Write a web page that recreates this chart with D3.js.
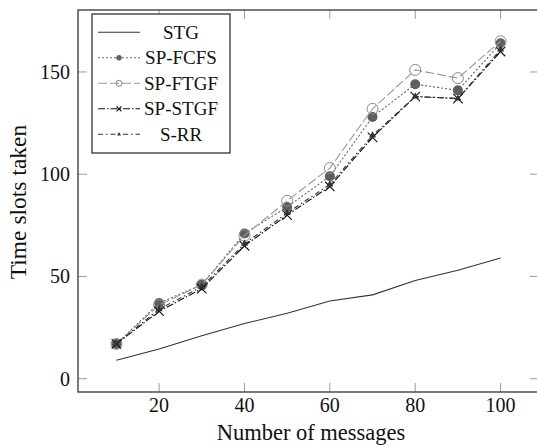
<!DOCTYPE html>
<html>

<head>
    <meta charset="utf-8">
    <title>Time slots taken</title>
    <style>
        body { margin: 0; background: #fff; }
    </style>
</head>

<body>
    <script src='https://d3js.org/d3.v7.min.js'></script>
    <script>
    // number of messages on the x axis
    var messages = [10, 20, 30, 40, 50, 60, 70, 80, 90, 100];
    // time slots for each scheme
    var stg    = [9, 14.5, 21, 27, 32, 38, 41, 48, 53, 59];
    var spFcfs = [17, 37, 46, 71, 84, 99, 128, 144, 141, 164];
    var spFtgf = [17, 36, 46, 70, 87, 103, 132, 151, 147, 165];
    var spStgf = [17, 33, 44, 65, 80, 94, 118, 138, 137, 160];
    var sRr    = [17, 34, 45, 66, 81, 95, 119, 138, 137, 161];
    var seriesNames = ["STG", "SP-FCFS", "SP-FTGF", "SP-STGF", "S-RR"];
    var xTicks = [20, 40, 60, 80, 100];
    var yTicks = [0, 50, 100, 150];

    const width = 537;
    const height = 446;
    const plotL = 78, plotR = 539, plotT = 10, plotB = 392;
    const serif = "'Liberation Serif', 'DejaVu Serif', serif";

    var x = d3.scaleLinear().domain([1, 109]).range([plotL, plotR]);
    var y = d3.scaleLinear().domain([-6.5, 180.3]).range([plotB, plotT]);

    var svg = d3.select("body")
        .append("svg")
        .attr("width", width)
        .attr("height", height)
        .attr("font-family", serif)
        .style("font-family", serif);

    // line + marker style per series
    var styles = [
        { values: stg,    stroke: "#333", dash: null,        marker: "none" },
        { values: spFcfs, stroke: "#666", dash: "2,2",       marker: "dot" },
        { values: spFtgf, stroke: "#999", dash: "9,3",       marker: "ring" },
        { values: spStgf, stroke: "#111", dash: "7,2,1.5,2", marker: "cross" },
        { values: sRr,    stroke: "#333", dash: "5,3,1.5,3", marker: "tri" }
    ];

    // ticks (inside the frame)
    var tickColor = "#9a9a9a";
    xTicks.forEach(function(t) {
        svg.append("line").attr("x1", x(t)).attr("x2", x(t)).attr("y1", plotB).attr("y2", plotB - 9)
            .attr("stroke", tickColor);
        svg.append("line").attr("x1", x(t)).attr("x2", x(t)).attr("y1", plotT).attr("y2", plotT + 9)
            .attr("stroke", tickColor);
    });
    yTicks.forEach(function(t) {
        svg.append("line").attr("x1", plotL).attr("x2", plotL + 9).attr("y1", y(t)).attr("y2", y(t))
            .attr("stroke", tickColor);
        svg.append("line").attr("x1", plotR - 9).attr("x2", plotR).attr("y1", y(t)).attr("y2", y(t))
            .attr("stroke", tickColor);
    });

    // tick labels
    svg.selectAll(".xlab")
        .data(xTicks)
        .enter()
        .append("text")
        .attr("x", function(d) { return x(d); })
        .attr("y", 412)
        .attr("fill", "#111")
        .style("text-anchor", "middle")
        .style("font-size", "20px")
        .text(function(d) { return d; });

    svg.selectAll(".ylab")
        .data(yTicks)
        .enter()
        .append("text")
        .attr("x", 70)
        .attr("y", function(d) { return y(d) + 7; })
        .attr("fill", "#111")
        .style("text-anchor", "end")
        .style("font-size", "20px")
        .text(function(d) { return d; });

    // axis titles
    svg.append("text")
        .attr("x", 311)
        .attr("y", 440)
        .attr("fill", "#111")
        .style("text-anchor", "middle")
        .style("font-size", "22.5px")
        .text("Number of messages");

    svg.append("text")
        .attr("transform", "translate(25.5,202) rotate(-90)")
        .attr("fill", "#111")
        .style("text-anchor", "middle")
        .style("font-size", "23.5px")
        .text("Time slots taken");

    function drawMarker(g, kind, cx, cy, s, stroke) {
        if (kind == "dot") {
            g.append("circle").attr("cx", cx).attr("cy", cy).attr("r", 5 * s)
                .attr("fill", "#5e5e5e");
        } else if (kind == "ring") {
            g.append("circle").attr("cx", cx).attr("cy", cy).attr("r", 5.5 * s)
                .attr("fill", "none").attr("stroke", "#8a8a8a").attr("stroke-width", 1);
        } else if (kind == "cross") {
            g.append("path").attr("transform", "translate(" + cx + "," + cy + ")")
                .attr("d", d3.symbol().type(d3.symbolTimes).size(60 * s * s)())
                .attr("fill", "none").attr("stroke", stroke).attr("stroke-width", 1.1);
        } else if (kind == "tri") {
            g.append("path").attr("transform", "translate(" + cx + "," + cy + ")")
                .attr("d", d3.symbol().type(d3.symbolTriangle).size(22 * s * s)())
                .attr("fill", stroke);
        }
    }

    // series lines and markers
    var line = d3.line()
        .x(function(d, i) { return x(messages[i]); })
        .y(function(d) { return y(d); });

    styles.forEach(function(st) {
        var g = svg.append("g");
        g.append("path")
            .attr("d", line(st.values))
            .attr("fill", "none")
            .attr("stroke", st.stroke)
            .attr("stroke-width", 1.1)
            .attr("stroke-dasharray", st.dash);
        st.values.forEach(function(v, i) {
            drawMarker(g, st.marker, x(messages[i]), y(v), 1, st.stroke);
        });
    });

    // frame
    svg.append("rect")
        .attr("x", plotL).attr("y", plotT)
        .attr("width", plotR - plotL).attr("height", plotB - plotT)
        .attr("fill", "none").attr("stroke", "#333").attr("stroke-width", 1.3);

    // legend
    var lg = svg.append("g");
    lg.append("rect")
        .attr("x", 92).attr("y", 14).attr("width", 138).attr("height", 139)
        .attr("fill", "#fff").attr("stroke", "#222").attr("stroke-width", 1.2);

    styles.forEach(function(st, i) {
        var ry = 32.3 + i * 25.5;
        lg.append("line")
            .attr("x1", 98).attr("x2", 140).attr("y1", ry).attr("y2", ry)
            .attr("stroke", st.stroke).attr("stroke-width", 1.1)
            .attr("stroke-dasharray", st.dash);
        drawMarker(lg, st.marker, 119, ry, 0.55, st.stroke);
        lg.append("text")
            .attr("x", 181).attr("y", ry + 6.5)
            .attr("fill", "#111")
            .style("text-anchor", "middle")
            .style("font-size", "19px")
            .text(seriesNames[i]);
    });
    </script>
</body>

</html>
